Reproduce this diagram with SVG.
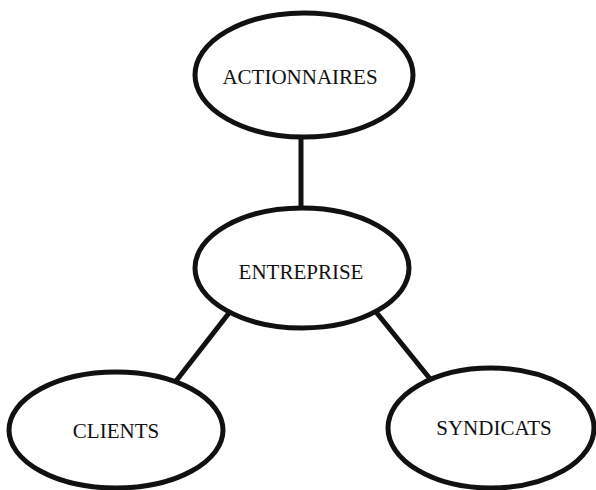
<svg xmlns="http://www.w3.org/2000/svg" width="596" height="490" viewBox="0 0 596 490">
<style>
.node ellipse{fill:#fff;stroke:#111;stroke-width:5}
.node text{font-family:"Liberation Serif","Times New Roman",serif;font-size:21px;fill:#111;text-anchor:middle}
.conn line{stroke:#111;stroke-width:5}
</style>
<rect width="596" height="490" fill="#fff"/>
<g class="conn">
<line x1="301" y1="137" x2="301" y2="209"/>
<line x1="229" y1="313" x2="176" y2="381"/>
<line x1="376" y1="312" x2="431" y2="380"/>
</g>
<g id="actionnaires" class="node">
<ellipse cx="304" cy="75" rx="109" ry="62"/>
<text x="300" y="84">ACTIONNAIRES</text>
</g>
<g id="entreprise" class="node">
<ellipse cx="302" cy="268" rx="107" ry="60"/>
<text x="301" y="279">ENTREPRISE</text>
</g>
<g id="clients" class="node">
<ellipse cx="116" cy="430" rx="107" ry="58"/>
<text x="116" y="438">CLIENTS</text>
</g>
<g id="syndicats" class="node">
<ellipse cx="491" cy="428" rx="103" ry="60"/>
<text x="494" y="435">SYNDICATS</text>
</g>
</svg>
